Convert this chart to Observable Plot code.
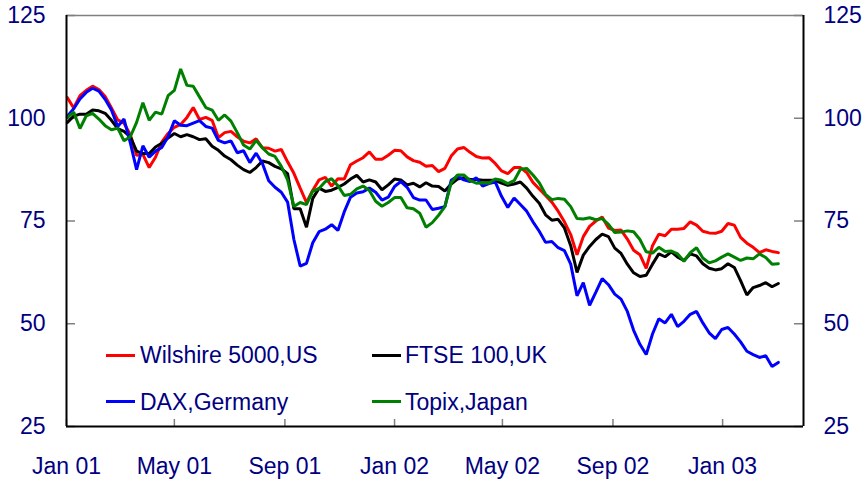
<!DOCTYPE html>
<html>
<head>
<meta charset="utf-8">
<script src="https://cdn.jsdelivr.net/npm/d3@7"></script>
<script src="https://cdn.jsdelivr.net/npm/@observablehq/plot@0.6"></script>
<style>
  html, body { margin: 0; padding: 0; background: #fff; }
  #wrap { position: relative; width: 866px; height: 479px; font-family: "Liberation Sans", Arial, sans-serif; }
  .lg { position: absolute; font-size: 23px; line-height: 23px; color: #000080; white-space: nowrap; }
  .sw { position: absolute; width: 29px; height: 3px; }
</style>
</head>
<body>
<div id="wrap"></div>
<script>
// Weekly index levels (first trading week of 2001 = ~100)
const startDate = "2001-01-02";
const seriesNames = ["Wilshire 5000,US", "FTSE 100,UK", "DAX,Germany", "Topix,Japan"];
const seriesColors = ["#ff0000", "#000000", "#0000ff", "#008000"];

const wilshire = [105,102.5,105.5,106.8,107.8,107,105.3,102.5,99.6,98.8,96,91,91.2,88,90.5,94.2,96.3,97.8,98.5,100.2,
  102.6,99.7,100.2,99.5,95.3,96.5,96.8,95.5,94.4,94,95,92.8,92.7,92,92.4,89.4,86.6,83,79.5,82.5,
  85,85.6,83.5,85.3,85.2,88.7,89.6,90.4,91.8,90,90,91,92.2,92.1,90.6,89.7,89.3,88.3,88.5,87,
  87.8,90.8,92.5,92.9,91.7,90.7,90.3,90.4,89,87.2,86.5,88,88,86.8,84.4,82.8,81.2,79.6,77.4,74.8,
  71.7,66.8,71.2,73.7,75,76,73.3,72.7,72.8,70.6,67.9,66.8,63.5,69,71.8,71.4,73,73,73.2,74.8,
  74,72.5,72.1,72,72.5,74.4,74,71,69.6,68.6,67.3,68,67.6,67.3];

const ftse = [99,100.5,101,101,102,101.8,101.2,99.5,97.5,96.8,95.5,92,91.4,91.4,93,93.9,95.2,96.3,95.5,96,
  95.5,94.8,95,93.2,92.2,90.8,89.9,88.6,87.5,86.8,88,89.6,89.2,88.3,87.7,86.5,78,78,73.5,80.5,
  83,82.2,82.5,83.2,84,85.2,86.1,84.5,85,84.5,82.6,83.8,85.2,85,83.8,84.2,83.3,84.3,83.5,83.4,
  82.3,84,85.2,85.5,85.1,85.1,84.9,84.9,84.9,84.2,83.7,84,84.5,83,81,79.3,76.5,75.2,75.4,73.3,
  69,62.5,66.7,68.8,70.5,71.8,71.2,68.4,67.1,64.5,62.4,61.5,61.8,64.5,67,66.3,67.5,66.2,65.4,67,
  66.5,64.6,63.5,63.1,63.4,64.6,63.7,60.5,57,58.8,59.3,60,59,59.8];

const dax = [100.5,102.3,104.7,106.3,107.3,106.6,104.6,102,98,99.8,94,87.5,93.3,90.5,92,92.9,95.5,99.4,98.3,98.2,
  98.8,99.4,98,97.6,94.6,94,94.5,91.6,92.1,89.2,91.5,89,84.8,83.2,82,79.6,70.5,64,64.7,69.7,
  72.4,73,74.1,72.7,77.2,80.8,81.8,82.1,83,82,80.1,80.8,83.4,84.6,83.2,80.7,80.1,80.1,77.8,78.1,
  78.5,84.9,85.9,85,84.6,85.5,83.5,84.1,84.5,81,78.3,80.6,79,77.4,74.8,72.5,69.8,70,68.5,67.8,
  64.5,56.8,60,54.5,57.7,61,59.5,57.2,56,53,48.4,45,42.5,47.5,51.2,50.2,52.3,49.3,50.6,52.3,
  53,50.2,47.8,46.4,48.6,49.1,47.5,45.6,43.3,42.5,41.8,42.2,39.6,40.6];

const topix = [100.2,101.5,97.5,100.6,101.2,99.8,98.2,97.2,97.6,94.5,95.5,99,103.8,99.5,101.5,101,105.5,106.8,112,108,
  107.8,105.2,102.6,102,99.5,100.8,99.3,96.5,93.5,92.5,94.6,92.8,91.3,90.7,88.3,85,78.5,79.5,79,82.3,
  82.9,84.6,85.3,83.6,81.2,81.5,82.8,83.5,82.4,79.8,78.6,79.5,80.7,80.7,78.2,78,76.9,73.5,74.6,76.4,
  78.5,84.3,86.2,86.2,84.8,84.2,84.3,84.2,85.2,84.9,84.1,84.8,87.6,87.8,86.2,84.3,81.5,80.2,80.5,80.3,
  78.5,75.6,75.5,75.8,75.3,75.6,74.2,72.2,72.3,72.6,72.4,70.5,67.5,67.2,68.6,67.6,67.7,67,65.2,67.3,
  68.5,66,64.8,65.3,66.2,67,66.2,65.4,66,65.8,67,66.1,64.5,64.6];

const yTicks = [25, 50, 75, 100, 125];
const xTickDates = ["2001-01-01","2001-05-01","2001-09-01","2002-01-01","2002-05-01","2002-09-01","2003-01-01"];
const xTickLabels = ["Jan 01","May 01","Sep 01","Jan 02","May 02","Sep 02","Jan 03"];
const xDomain = ["2001-01-01", "2003-04-01"];

// ---- build table ----
const allSeries = [wilshire, ftse, dax, topix];
const t0 = d3.utcParse("%Y-%m-%d")(startDate);
const rows = [];
allSeries.forEach((vals, s) => {
  vals.forEach((v, i) => rows.push({series: seriesNames[s], date: d3.utcDay.offset(t0, 7 * i), value: v}));
});
const parse = d3.utcParse("%Y-%m-%d");
const xTicks = xTickDates.map(parse);
const dom = xDomain.map(parse);

const W = 866, H = 479, mL = 66, mR = 63, mT = 15, mB = 53;
const plotW = W - mL - mR, plotH = H - mT - mB;

const chart = Plot.plot({
  width: W, height: H,
  marginLeft: mL, marginRight: mR, marginTop: mT, marginBottom: mB,
  style: {fontFamily: "'Liberation Sans', Arial, sans-serif", fontSize: "23px", color: "#000080", background: "transparent", overflow: "visible"},
  x: {type: "utc", domain: dom, label: null},
  y: {domain: [25, 125], label: null},
  color: {domain: seriesNames, range: seriesColors},
  marks: [
    Plot.axisY(yTicks, {anchor: "left", tickSize: 0, tickPadding: 21, fill: "#000080", fontSize: 23, label: null}),
    Plot.axisY(yTicks, {anchor: "right", tickSize: 0, tickPadding: 20, fill: "#000080", fontSize: 23, label: null}),
    Plot.axisX(xTicks, {anchor: "bottom", tickSize: 0, tickPadding: 31, fill: "#000080", fontSize: 23, label: null,
      tickFormat: (d) => xTickLabels[xTicks.findIndex(t => +t === +d)]}),
    Plot.tickY(yTicks, {y: d => d, stroke: "#808080", strokeWidth: 1.5, insetRight: plotW - 9}),
    Plot.tickY(yTicks, {y: d => d, stroke: "#808080", strokeWidth: 1.5, insetLeft: plotW - 9}),
    Plot.tickX(xTicks, {x: d => d, stroke: "#808080", strokeWidth: 1.5, insetTop: plotH - 7}),
    Plot.lineY(rows, {x: "date", y: "value", z: "series", stroke: "series", strokeWidth: 3, strokeLinejoin: "miter"}),
    Plot.ruleY([125], {stroke: "#808080", strokeWidth: 1.5}),
    Plot.ruleY([25], {stroke: "#000", strokeWidth: 2}),
    Plot.ruleX([dom[0]], {stroke: "#000", strokeWidth: 2}),
    Plot.ruleX([dom[1]], {stroke: "#000", strokeWidth: 2})
  ]
});

const wrap = document.getElementById("wrap");
wrap.appendChild(chart);

// legend inside the plot area (2 x 2)
const legendPos = [
  {sw: 106, tx: 140, row: 0},
  {sw: 372, tx: 405, row: 0},
  {sw: 106, tx: 140, row: 1},
  {sw: 372, tx: 405, row: 1}
];
const rowLine = [354, 399.5];
const rowText = [343.5, 390.5];
seriesNames.forEach((name, s) => {
  const p = legendPos[s];
  const sw = document.createElement("div");
  sw.className = "sw";
  sw.style.left = p.sw + "px";
  sw.style.top = rowLine[p.row] + "px";
  sw.style.background = seriesColors[s];
  wrap.appendChild(sw);
  const tx = document.createElement("div");
  tx.className = "lg";
  tx.style.left = p.tx + "px";
  tx.style.top = rowText[p.row] + "px";
  tx.textContent = name;
  wrap.appendChild(tx);
});
</script>
</body>
</html>
